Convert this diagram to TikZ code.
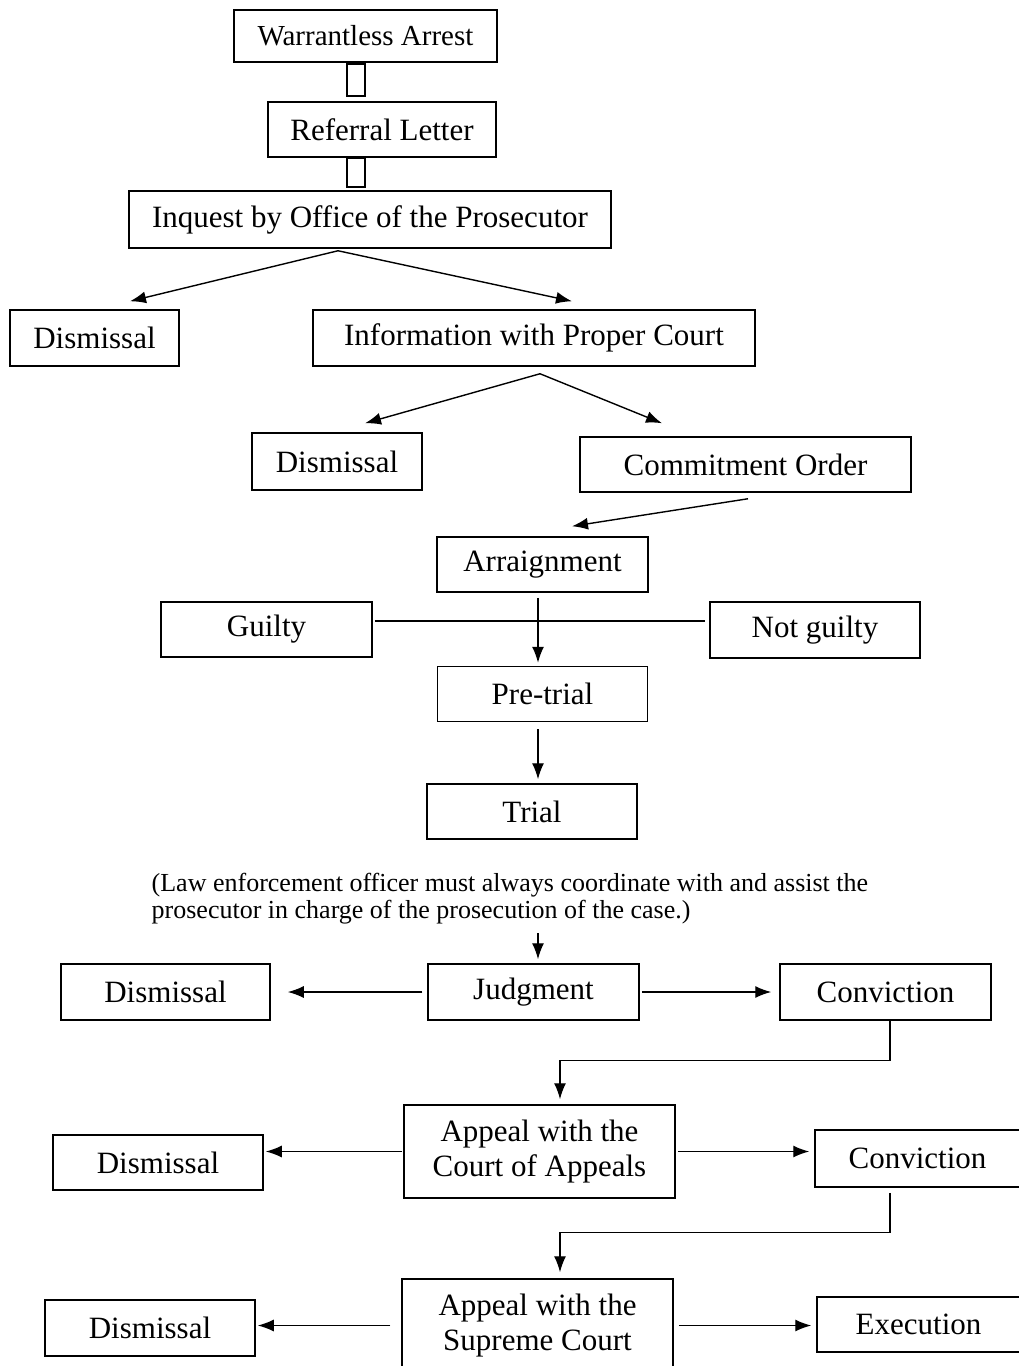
\documentclass[tikz,border=0pt]{standalone}
\usepackage{fontspec}
\setmainfont{Liberation Serif}
\usetikzlibrary{arrows.meta,calc,positioning}
\tikzset{
    box/.style ={rectangle, draw, line width=1.5pt, minimum height=55pt, inner sep=2pt, align=center, font=\fontsize{31}{35}\selectfont},
    stub/.style ={rectangle, draw, line width=1.5pt, minimum width=18pt, inner sep=0pt},
    note/.style = {inner sep=0pt, align=left, font=\fontsize{26}{27}\selectfont}
}

\begin{document}
\begin{tikzpicture}[x=1pt,y=-1pt,line width=1.4pt,-{Latex[length=16pt,width=12pt]}]
    \useasboundingbox (0,0) rectangle (1018,1366);
    \node[box, minimum width=263pt, minimum height=52pt, font=\fontsize{29}{32}\selectfont] (1) at (365.5,36) {Warrantless Arrest};
    \node[stub, minimum height=32pt] (2) at (356,80) {};
    \node[box, minimum width=228pt] (3) at (382,129.5) {Referral Letter};
    \node[stub, minimum height=29pt] (4) at (356,172.5) {};
    \node[box, minimum width=482pt, minimum height=57pt] (5) at (370,219.5) {Inquest by Office of the Prosecutor};
    \node[box, minimum width=169pt, minimum height=56pt] (6) at (94.5,338) {Dismissal};
    \node[box, minimum width=442pt, minimum height=56pt] (7) at (534,338) {Information with Proper Court};
    \node[box, minimum width=170pt, minimum height=57pt] (8) at (337,461.5) {Dismissal};
    \node[box, minimum width=331pt] (9) at (745.5,464.5) {Commitment Order};
    \node[box, minimum width=211pt] (10) at (542.5,564.5) {Arraignment};
    \node[box, minimum width=211pt] (11) at (266.5,629.5) {Guilty};
    \node[box, minimum width=210pt, minimum height=56pt] (12) at (815,630) {Not guilty};
    \node[box, minimum width=210pt] (13) [below = 73pt of 10] {Pre-trial};
    \node[box, minimum width=210pt] (14) at (532,811.5) {Trial};

    \path ($(5.south)+(-32,2)$) edge ($(6.north)+(35.5,-8)$);
    \path ($(5.south)+(-32,2)$) edge ($(7.north)+(38,-8)$);
    \path ($(7.south)+(6,7)$) edge ($(8.north)+(28,-9)$);
    \path ($(7.south)+(6,7)$) edge ($(9.north)+(-83.5,-13)$);
    \path ($(9.south)+(2.5,6)$) edge ($(10.north)+(29.5,-10)$);
    \path ($(10.south)+(-4.5,5)$) edge ($(13.north)+(-4.5,-3)$);
    \draw[-] ($(11.east)+(2,-8.5)$) -- ($(12.west)+(-4,-9)$);
    \path ($(13.south)+(-4.5,7)$) edge ($(14.north)+(6,-4)$);

    \node[note, anchor=west] (15) at (151,899) {(Law enforcement officer must always coordinate with and assist the\\prosecutor in charge of the prosecution of the case.)};

    \node[box, minimum width=211pt, minimum height=56pt] (16) at (533.5,992) {Judgment};
    \node[box, minimum width=209pt, minimum height=56pt] (17) at (165.5,992) {Dismissal};
    \node[box, minimum width=211pt, minimum height=56pt] (18) at (885.5,992) {Conviction};
    \draw ($(16.north |- 15.south)+(4.5,8)$) -- ($(16.north)+(4.5,-4)$);
    \draw[shorten <=5pt, shorten >=17pt] (16) -- (17);
    \draw[shorten <=2pt, shorten >=8pt] (16) -- (18);

    \node[box, minimum width=271pt, minimum height=93pt] (19) at (539.5,1151.5) {Appeal with the\\Court of Appeals};
    \node[box, minimum width=210pt] (20) at (158,1162.5) {Dismissal};
    \node[box, minimum width=205pt, minimum height=57pt] (21) at (917.5,1158.5) {Conviction};
    \draw ($(18.south)+(4.5,0)$) -- ++(0,40) -| ($(19.north)+(20.5,-5)$);
    \draw[shorten <=1pt, shorten >=2pt] (19.west) -- (19.west -| 20.east);
    \draw[shorten <=2pt, shorten >=5pt] (19.east) -- (19.east -| 21.west);

    \node[box, minimum width=271pt, minimum height=93pt] (22) at (537.5,1325.5) {Appeal with the\\Supreme Court};
    \node[box, minimum width=210pt, minimum height=56pt] (23) at (150,1328) {Dismissal};
    \node[box, minimum width=203pt] (24) at (918.5,1324.5) {Execution};
    \draw ($(21.south)+(-27.5,5)$) -- ++(0,40) -| ($(22.north)+(22.5,-6)$);
    \draw[shorten <=11pt, shorten >=2pt] (22.west) -- (22.west -| 23.east);
    \draw[shorten <=5pt, shorten >=5pt] (22.east) -- (22.east -| 24.west);
\end{tikzpicture}
\end{document}
